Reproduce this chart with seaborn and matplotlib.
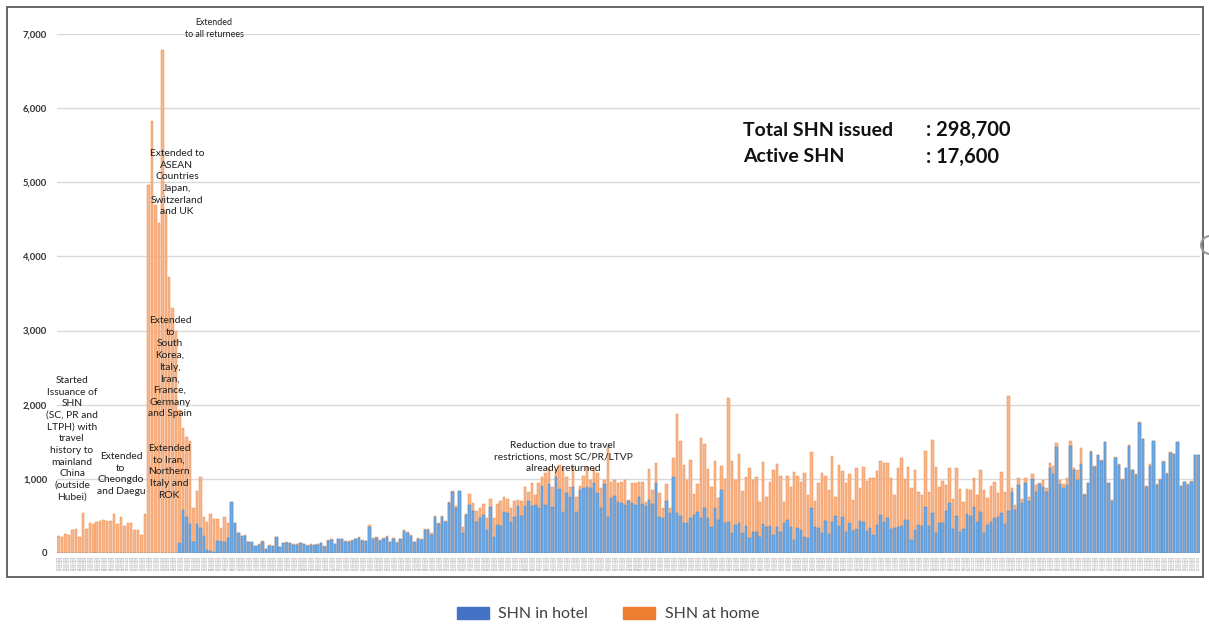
import pandas as pd
import matplotlib.pyplot as plt
from matplotlib.patches import Patch, Rectangle, Ellipse
import seaborn as sns

# daily SHN issued (hotel part and hotel+home total)
hotel = [
    # orange-only start
    0, 0, 0, 0, 0, 0, 0, 0, 0, 0, 0, 0, 0, 0, 0, 0, 0, 0, 0, 0, 0, 0, 0, 0, 0, 0,
    0, 0, 0, 0, 0, 0, 0, 0, 0,
    # hotels start
    140, 580, 486, 392, 153, 392, 340, 225, 36, 30, 20, 158, 158, 144, 203, 685, 405,
    270, 225, 230, 144, 144, 90, 113, 153, 54, 100, 90, 216, 75, 135, 140, 130, 113,
    # mid
    108, 130, 117, 95, 108, 104, 113, 130, 86,
    162, 176, 117, 185, 185, 153, 153, 167, 185, 207,
    167, 158, 356, 189, 207, 162, 194, 221, 144, 189,
    140, 185, 302, 275, 230, 144, 189, 176, 311,
    311, 239, 491, 392, 491, 423, 680, 824, 604, 833,
    275, 513, 649, 568, 423, 477, 513, 311, 626, 221,
    378, 369, 558, 536, 423, 491, 635, 500, 635, 707,
    635, 649, 613, 905, 649, 932, 626, 1031, 860, 558,
    806, 761, 887, 558, 851, 874, 887, 874, 941, 815,
    604, 932, 491, 739, 770, 694, 680, 649, 707, 671,
    649, 761,
    # home-heavy period
    662, 635, 716, 662, 950, 491, 468, 707, 536, 1031,
    536, 500, 401, 401, 468, 514, 559, 468, 604, 468,
    356, 604, 446, 851, 401, 423, 266, 378, 401, 266,
    365, 207, 288, 288, 221, 392, 356, 369, 243, 347,
    288, 410, 446, 356, 176, 333, 311, 221, 198, 604,
    347, 333, 275, 437, 257, 423, 500, 365, 482, 288,
    410, 297, 320, 437, 423, 302, 342, 243, 380, 514, 423,
    468, 320, 333, 356, 369, 446, 446, 176, 311, 378,
    369,
    # latest
    626, 365, 536, 266, 401, 401, 568, 671, 324, 505,
    279, 320, 527, 500, 626, 423, 554, 266, 378, 420, 477,
    491, 545, 392, 568, 824, 581, 919, 680, 950, 698,
    995, 829, 928, 887, 829, 1140, 1068, 1428, 928, 874,
    919, 1437, 1113, 986, 1198, 784, 941, 1356, 1158, 1320,
    1243, 1491, 941, 707, 1288, 1189, 986, 1144, 1446, 1113,
    1054, 1752, 1532, 896, 1167, 1505, 919, 986, 1230, 1068,
    1351, 1329, 1491, 905, 959, 919, 964, 1320, 1320,
]

total = [
    234, 212, 252, 248, 306, 329, 212, 540, 329, 405, 392, 414, 428, 441, 430, 428,
    522, 396, 491, 360, 405, 405, 315, 306, 239, 522,
    4970, 5830, 4700, 4450, 6780, 4600, 3720, 3300, 3000,
    1930, 1690, 1570, 1510, 610, 830, 1025, 490, 423, 527, 459, 459, 338, 490, 405, 685, 410,
    275, 235, 240, 150, 150, 95, 120, 160, 60, 105, 95, 220, 80, 140, 145, 135, 118,
    118, 140, 125, 105, 118, 112, 122, 140, 95,
    170, 185, 125, 192, 195, 160, 162, 175, 192, 215,
    175, 165, 380, 196, 215, 170, 202, 228, 150, 196,
    148, 192, 310, 282, 238, 150, 196, 184, 320,
    320, 266, 505, 400, 500, 430, 690, 830, 635, 840,
    356, 530, 793, 671, 560, 613, 658, 468, 725, 468,
    662, 702, 750, 730, 604, 707, 716, 703, 896, 829,
    941, 784, 941, 1031, 1081, 1153, 887, 1122, 1189, 1158,
    1031, 896, 1158, 761, 905, 1041, 1158, 986, 1144, 1081,
    878, 986, 1437, 959, 986, 950, 959, 986, 720, 950,
    941, 964,
    964, 694, 1131, 851, 1212, 806, 604, 932, 604, 1279,
    1874, 1514, 1189, 986, 1257, 797, 932, 1550, 1464, 1131,
    896, 1243, 739, 1176, 995, 2090, 1243, 986, 1338, 838,
    1023, 1144, 986, 1023, 694, 1221, 752, 964, 1113, 1198,
    1045, 694, 1032, 896, 1086, 1032, 964, 1077, 784, 1356,
    707, 941, 1077, 1032, 851, 1311, 761, 1189, 1108, 941,
    1063, 716, 1153, 874, 1158, 977, 1009, 1018, 1100, 1243, 1212,
    1212, 1018, 784, 1153, 1288, 995, 1158, 874, 1113, 820,
    784,
    1378, 829, 1518, 1158, 887, 977, 914, 1144, 730, 1144,
    860, 689, 860, 851, 1009, 784, 1122, 851, 739, 900, 964,
    806, 1086, 829, 2122, 874, 649, 1005, 734, 1005, 761,
    1068, 919, 941, 986, 874, 1212, 1176, 1482, 986, 932,
    1014, 1509, 1144, 1122, 1410, 790, 948, 1369, 1176, 1326,
    1257, 1500, 946, 712, 1292, 1194, 992, 1150, 1450, 1122,
    1060, 1761, 1540, 900, 1198, 1512, 924, 992, 1237, 1074,
    1356, 1335, 1497, 910, 964, 924, 970, 1326, 1326,
]

days = pd.date_range("2020-02-18", periods=len(total)).strftime("%d/%m/%Y")

notes = [
    ("Started\nIssuance of\nSHN\n(SC, PR and\nLTPH) with\ntravel\nhistory to\nmainland\nChina\n(outside\nHubei)", 72, 376),
    ("Extended\nto\nCheongdo\nand Daegu", 121, 452),
    ("Extended\nto Iran,\nNorthern\nItaly and\nROK", 169, 444),
    ("Extended\nto\nSouth\nKorea,\nItaly,\nIran,\nFrance,\nGermany\nand Spain", 170, 316),
    ("Extended to\nASEAN\nCountries\nJapan,\nSwitzerland\nand UK", 177, 149),
    ("Extended\nto all returnees", 214, 18),
    ("Reduction due to travel\nrestrictions, most SC/PR/LTVP\nalready returned", 563, 441),
]

W, H = 1209, 626
BLUE, BLUE_EDGE = "#72A9E0", "#4589D0"
ORANGE, ORANGE_EDGE = "#F7B68B", "#EF8A48"

sns.set_theme(style="white")
plt.rcParams["font.family"] = ["Lato", "DejaVu Sans"]

df = pd.DataFrame({"day": days, "hotel": hotel, "total": total})

fig = plt.figure(figsize=(W / 100, H / 100), dpi=100)
ax = fig.add_axes([57 / W, 1 - 553 / H, (1200 - 57) / W, (553 - 34) / H])

# stacked look: total (orange) first, hotel (blue) drawn over it
sns.barplot(data=df, x="day", y="total", color=ORANGE, saturation=1, width=0.72,
            edgecolor=ORANGE_EDGE, linewidth=0.35, ax=ax)
sns.barplot(data=df, x="day", y="hotel", color=BLUE, saturation=1, width=0.72,
            edgecolor=BLUE_EDGE, linewidth=0.35, ax=ax)

ax.set_xlim(-0.5, len(total) - 0.5)
ax.set_ylim(0, 7000)
ax.set_yticks(range(0, 7001, 1000))
ax.set_yticklabels([f"{v:,}" for v in range(0, 7001, 1000)], fontsize=6.8,
                   color="#333333", fontweight="bold")
ax.yaxis.grid(True, color="#D9D9D9", lw=1)
ax.set_axisbelow(True)
for s in ax.spines.values():
    s.set_visible(False)
ax.set_xlabel("")
ax.set_ylabel("")
ax.tick_params(axis="y", length=0, pad=7)
ax.tick_params(axis="x", length=0, pad=2, labelsize=1.8, labelrotation=90, colors="#8C8C8C")

# annotations
for txt, x, y in notes:
    fs = 6.4 if "returnees" in txt else 7.4
    fig.text(x / W, 1 - y / H, txt, ha="center", va="top", fontsize=fs,
             color="#1F1F1F", linespacing=1.38)

fig.text(743 / W, 1 - 130 / H, "Total SHN issued", ha="left", va="center",
         fontsize=14, fontweight="bold", color="#111111")
fig.text(926 / W, 1 - 130 / H, ": 298,700", ha="left", va="center",
         fontsize=14.5, fontweight="bold", color="#111111")
fig.text(743 / W, 1 - 157 / H, "Active SHN", ha="left", va="center",
         fontsize=14, fontweight="bold", color="#111111")
fig.text(926 / W, 1 - 157 / H, ": 17,600", ha="left", va="center",
         fontsize=14.5, fontweight="bold", color="#111111")

handles = [Patch(color="#4472C4", label="SHN in hotel"),
           Patch(color="#ED7D31", label="SHN at home")]
leg = fig.legend(handles=handles, loc="center", bbox_to_anchor=(608 / W, 1 - 614 / H),
                 ncol=2, frameon=False, fontsize=11.5, handlelength=2.0, handleheight=0.8,
                 columnspacing=2.2, handletextpad=0.6)
for t in leg.get_texts():
    t.set_color("#404040")

fig.patches.append(Rectangle((7 / W, 1 - 577 / H), (1203 - 7) / W, (577 - 7) / H,
                             fill=False, ec="#595959", lw=1.3, transform=fig.transFigure))
fig.patches.append(Ellipse((1210 / W, 1 - 245 / H), 18 / W, 18 / H, fill=False,
                           ec="#9A9A9A", lw=1.5, transform=fig.transFigure))

fig.savefig("out.png", dpi=100)
